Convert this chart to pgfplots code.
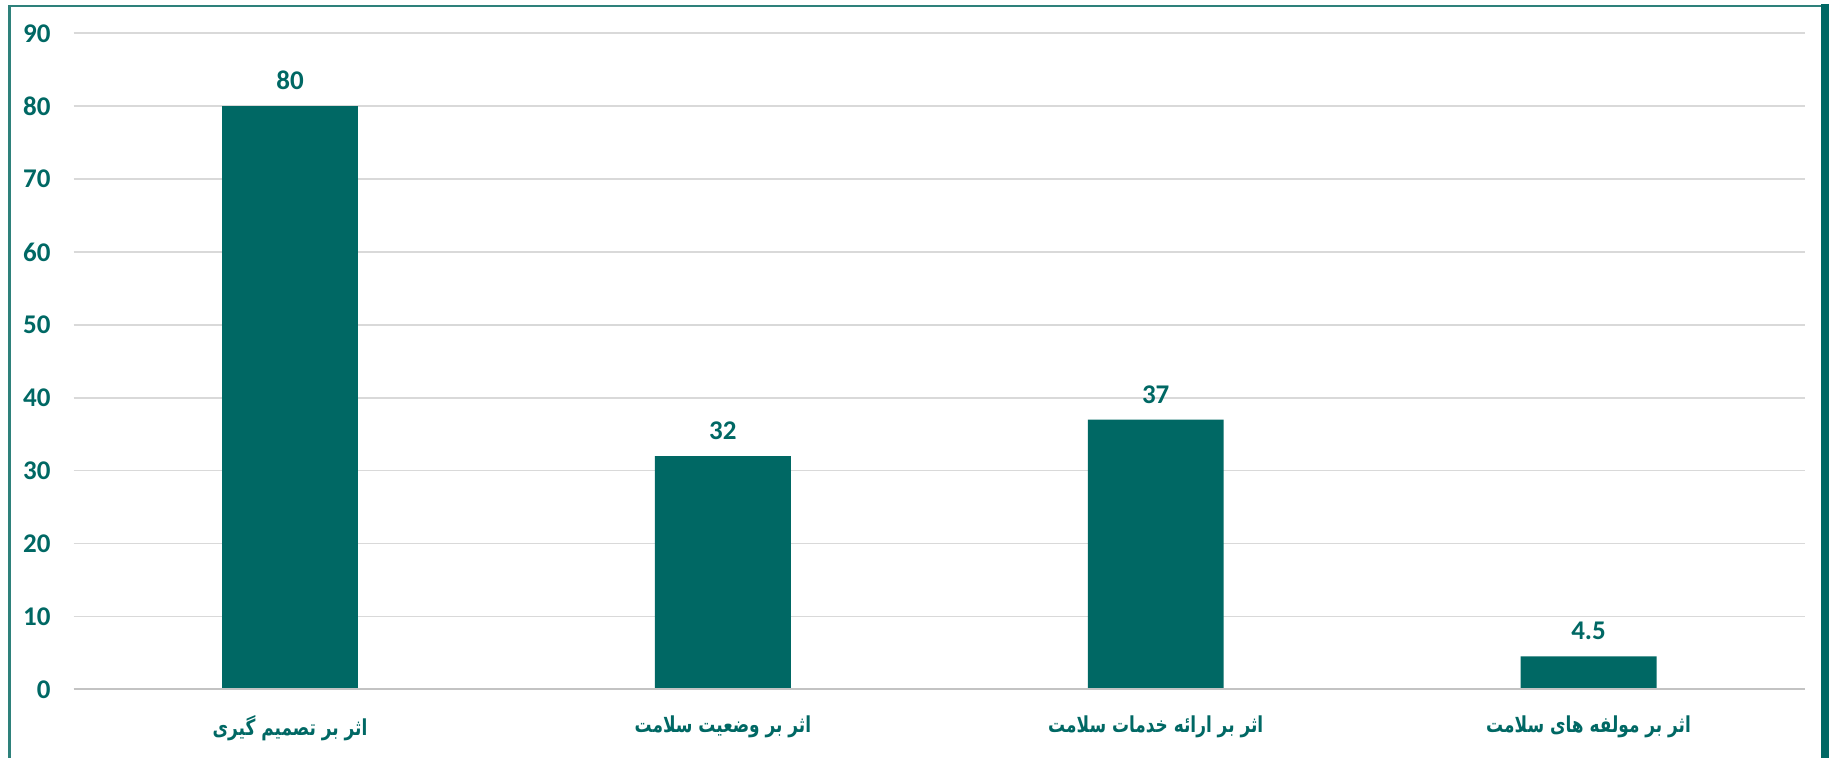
\documentclass[border=0pt]{standalone}
\usepackage{fontspec}
\setmainfont{Carlito}
\newfontfamily\arabicfont[Script=Arabic, FakeStretch=0.77]{DejaVu Sans}
\TeXXeTstate=1
\usepackage{pgfplots}
\pgfplotsset{compat=1.18}
\definecolor{barteal}{HTML}{006864}
\definecolor{frameteal}{HTML}{2E817B}
\definecolor{gridgray}{HTML}{D9D9D9}

\begin{document}
\begin{tikzpicture}
\begin{axis}[
  at={(36.8pt,34.35pt)}, anchor=south west,
  scale only axis, width=865.7pt, height=328pt,
  ymin=0, ymax=90, ytick={0,10,...,90},
  xmin=-0.5, xmax=3.5, xtick={0,1,2,3},
  xticklabels={
    {\arabicfont\bfseries\beginR اثر بر تصمیم گیری\endR},
    {\arabicfont\bfseries\beginR اثر بر وضعیت سلامت\endR},
    {\arabicfont\bfseries\beginR اثر بر ارائه خدمات سلامت\endR},
    {\arabicfont\bfseries\beginR اثر بر مولفه های سلامت\endR}},
  ybar, bar width=0.314,
  axis line style={draw=none},
  tick style={draw=none}, major tick length=0pt,
  ymajorgrids, grid style={gridgray, line width=0.8pt},
  /pgf/number format/assume math mode=true,
  yticklabel style={font=\fontsize{13.5}{15}\selectfont\bfseries, text=barteal, xshift=-8pt},
  xticklabel style={font=\fontsize{11}{13}\selectfont, text=barteal, yshift=-9.5pt},
  nodes near coords,
  nodes near coords style={font=\fontsize{13.5}{15}\selectfont\bfseries, text=barteal, inner sep=0pt, yshift=8pt},
  clip=false,
]
\addplot[fill=barteal, draw=none] coordinates {(0,80) (1,32) (2,37) (3,4.5)};
\draw[gridgray!90!black, line width=1pt] (axis cs:-0.5,0) -- (axis cs:3.5,0);
\end{axis}
\draw[frameteal, line width=1.2pt] (4.75pt,-20pt) -- (4.75pt,375.85pt) -- (912pt,375.85pt);
\draw[barteal, line width=4pt] (912.5pt,377pt) -- (912.5pt,-20pt);
\pgfresetboundingbox
\useasboundingbox (0,0) rectangle (916pt,379pt);
\end{tikzpicture}
\end{document}
